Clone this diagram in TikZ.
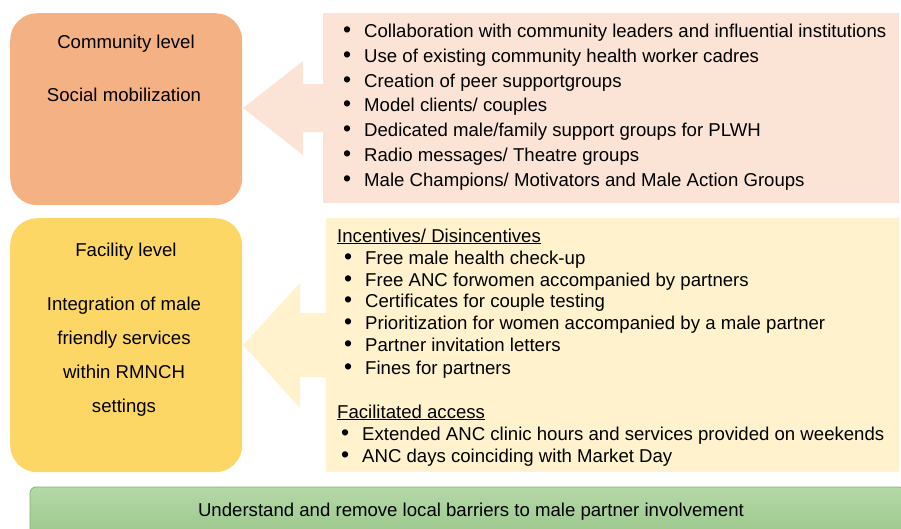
\documentclass[tikz,border=0pt]{standalone}
\usepackage{fontspec}
\setmainfont{Liberation Sans}
\definecolor{commfill}{HTML}{F4B183}
\definecolor{facfill}{HTML}{FDD766}
\definecolor{peach}{HTML}{FBE4D6}
\definecolor{cream}{HTML}{FFF2CC}
\definecolor{greentop}{HTML}{B5D8A7}
\definecolor{greenbot}{HTML}{98C689}
\definecolor{greenline}{HTML}{82B366}
\newcommand{\bulA}{\makebox[21pt][l]{{\fontsize{23}{23}\selectfont\textbullet}}}
\begin{document}
\begin{tikzpicture}[x=1pt,y=-1pt,
  font=\fontsize{18.6}{22}\selectfont,
  levelbox/.style={rounded corners=27pt, inner sep=0pt, anchor=north west},
  lbl/.style={inner sep=0pt, anchor=base},
  item/.style={inner sep=0pt, anchor=base west}]
\useasboundingbox (0,0) rectangle (901,528);
\clip (0,0) rectangle (901,528);
% left level boxes
\node[levelbox, fill=commfill, minimum width=232pt, minimum height=192pt] (comm) at (10,13) {};
\node[levelbox, fill=facfill, minimum width=232pt, minimum height=254pt] (fac) at (10,218) {};
% right panels
\node[inner sep=0pt, anchor=north west, fill=peach, minimum width=576pt, minimum height=190pt] (commpanel) at (323,13) {};
\node[inner sep=0pt, anchor=north west, fill=cream, minimum width=573pt, minimum height=254pt] (facpanel) at (326,218) {};
% block arrows
\fill[peach] (323,84) -- (303,84) -- (303,61) -- (243,108) -- (303,155) -- (303,132) -- (323,132) -- cycle;
\fill[cream] (326,313) -- (300,313) -- (300,283) -- (243,345) -- (300,408) -- (300,377) -- (326,377) -- cycle;
% left texts
\node[lbl] (ct1) at (126,48) {Community level};
\node[lbl] (ct2) at (124,101) {Social mobilization};
\node[lbl] (ft1) at (126,256) {Facility level};
\node[lbl] (ft2) at (124,310) {Integration of male};
\node[lbl] (ft3) at (124,344) {friendly services};
\node[lbl] (ft4) at (124,378) {within RMNCH};
\node[lbl] (ft5) at (124,412) {settings};
% community items
\node[item] (c1) at (343,37) {\bulA Collaboration with community leaders and influential institutions};
\node[item] (c2) at (343,62) {\bulA Use of existing community health worker cadres};
\node[item] (c3) at (343,87) {\bulA Creation of peer supportgroups};
\node[item] (c4) at (343,111) {\bulA Model clients/ couples};
\node[item] (c5) at (343,136) {\bulA Dedicated male/family support groups for PLWH};
\node[item] (c6) at (343,161) {\bulA Radio messages/ Theatre groups};
\node[item] (c7) at (343,186) {\bulA Male Champions/ Motivators and Male Action Groups};
% facility items
\node[item] (h1) at (337,242) {\underline{Incentives/ Disincentives}};
\node[item] (f1) at (344,264) {\bulA Free male health check-up};
\node[item] (f2) at (344,286) {\bulA Free ANC forwomen accompanied by partners};
\node[item] (f3) at (344,307) {\bulA Certificates for couple testing};
\node[item] (f4) at (344,329) {\bulA Prioritization for women accompanied by a male partner};
\node[item] (f5) at (344,351) {\bulA Partner invitation letters};
\node[item] (f6) at (344,374) {\bulA Fines for partners};
\node[item] (h2) at (337,418) {\underline{Facilitated access}};
\node[item] (g1) at (341,440) {\bulA Extended ANC clinic hours and services provided on weekends};
\node[item] (g2) at (341,462) {\bulA ANC days coinciding with Market Day};
% bottom bar
\draw[greenline, top color=greentop, bottom color=greenbot, rounded corners=6pt, line width=0.8pt] (30,540) -- (30,487) -- (905,487) -- (905,540);
\node[lbl] (bar) at (471,516) {Understand and remove local barriers to male partner involvement};
\end{tikzpicture}
\end{document}
